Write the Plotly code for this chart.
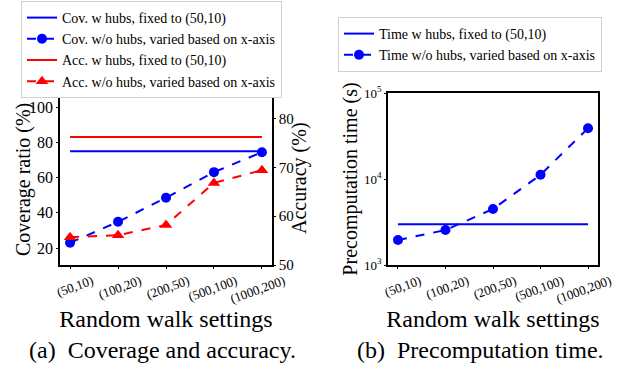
import plotly.graph_objects as go

settings = ["(50,10)", "(100,20)", "(200,50)", "(500,100)", "(1000,200)"]
cov_hubs = [75, 75, 75, 75, 75]
cov_nohubs = [23, 34.9, 48.6, 63.1, 74.4]
acc_hubs = [76.2, 76.2, 76.2, 76.2, 76.2]
acc_nohubs = [55.7, 56.1, 58.2, 66.8, 69.4]
time_hubs = [2970, 2970, 2970, 2970, 2970]
time_nohubs = [1950, 2550, 4480, 11200, 38900]

FONT = "Liberation Serif"
BLUE = "#0000ff"
RED = "#ff0000"

fig = go.Figure()
fig.add_trace(go.Scatter(x=settings, y=cov_hubs, mode="lines", name="Cov. w hubs, fixed to (50,10)",
                         line=dict(color=BLUE, width=2), xaxis="x", yaxis="y", legend="legend"))
fig.add_trace(go.Scatter(x=settings, y=cov_nohubs, mode="lines+markers", name="Cov. w/o hubs, varied based on x-axis",
                         line=dict(color=BLUE, width=2, dash="dash"), marker=dict(symbol="circle", size=10, color=BLUE),
                         xaxis="x", yaxis="y", legend="legend"))
fig.add_trace(go.Scatter(x=settings, y=acc_hubs, mode="lines", name="Acc. w hubs, fixed to (50,10)",
                         line=dict(color=RED, width=2), xaxis="x", yaxis="y2", legend="legend"))
fig.add_trace(go.Scatter(x=settings, y=acc_nohubs, mode="lines+markers", name="Acc. w/o hubs, varied based on x-axis",
                         line=dict(color=RED, width=2, dash="dash"), marker=dict(symbol="triangle-up", size=11, color=RED),
                         xaxis="x", yaxis="y2", legend="legend"))
fig.add_trace(go.Scatter(x=settings, y=time_hubs, mode="lines", name="Time w hubs, fixed to (50,10)",
                         line=dict(color=BLUE, width=2), xaxis="x3", yaxis="y3", legend="legend2"))
fig.add_trace(go.Scatter(x=settings, y=time_nohubs, mode="lines+markers", name="Time w/o hubs, varied based on x-axis",
                         line=dict(color=BLUE, width=2, dash="dash"), marker=dict(symbol="circle", size=10, color=BLUE),
                         xaxis="x3", yaxis="y3", legend="legend2"))

W, H = 641, 369
def px(x0, x1):
    return [x0 / W, x1 / W]
def py(top, bottom):
    return [1 - bottom / H, 1 - top / H]

axcommon = dict(showline=True, linecolor="black", linewidth=1.5, mirror=False, showgrid=False,
                zeroline=False, ticks="outside", ticklen=2, tickcolor="black", automargin=False,
                tickfont=dict(family=FONT, size=16, color="black"))

xcommon = dict(axcommon, tickangle=-20, ticklabelshift=22, tickfont=dict(family=FONT, size=13, color="black"),
               range=[-0.21, 4.21],
               title=dict(text="Random walk settings", font=dict(family=FONT, size=24, color="black"), standoff=1))

fig.update_layout(
    width=W, height=H, margin=dict(l=0, r=0, t=0, b=0, autoexpand=False),
    paper_bgcolor="white", plot_bgcolor="white",
    font=dict(family=FONT, color="black"),
    xaxis=dict(xcommon, domain=px(60, 272), anchor="y", mirror=True),
    yaxis=dict(axcommon, domain=py(93, 265), range=[10.4, 108], tickvals=[20, 40, 60, 80, 100], anchor="x"),
    yaxis2=dict(axcommon, overlaying="y", side="right", range=[50, 85.2], tickvals=[50, 60, 70, 80], anchor="x",
                tickfont=dict(family=FONT, size=15, color="black")),
    xaxis3=dict(xcommon, domain=px(388, 598), anchor="y3", mirror=True),
    yaxis3=dict(axcommon, domain=py(93, 265), type="log", range=[3, 5], anchor="x3", mirror=True,
                tickfont=dict(family=FONT, size=13, color="black"),
                tickvals=[1000, 10000, 100000], ticktext=["10<sup>3</sup>", "10<sup>4</sup>", "10<sup>5</sup>"],
                title=dict(text="Precomputation time (s)", font=dict(family=FONT, size=20, color="black"), standoff=1)),
    legend=dict(x=21 / W, y=1 - 1 / H, xanchor="left", yanchor="top", bgcolor="white",
                bordercolor="#d0d0d0", borderwidth=1, font=dict(family=FONT, size=14, color="black"),
                traceorder="normal"),
    legend2=dict(x=338 / W, y=1 - 17 / H, xanchor="left", yanchor="top", bgcolor="white",
                 bordercolor="#d0d0d0", borderwidth=1, font=dict(family=FONT, size=14, color="black"),
                 traceorder="normal"),
    annotations=[
        dict(text="Coverage ratio (%)", x=23 / W, y=1 - 180 / H, xref="paper", yref="paper", textangle=-90,
             xanchor="center", yanchor="middle", showarrow=False, font=dict(family=FONT, size=20, color="black")),
        dict(text="Accuracy (%)", x=300 / W, y=1 - 178 / H, xref="paper", yref="paper", textangle=-90,
             xanchor="center", yanchor="middle", showarrow=False, font=dict(family=FONT, size=20, color="black")),
        dict(text="(a)\u2002Coverage and accuracy.", x=162 / W, y=1 - 350 / H, xref="paper", yref="paper",
             xanchor="center", yanchor="middle", showarrow=False, font=dict(family=FONT, size=24, color="black")),
        dict(text="(b)\u2002Precomputation time.", x=480 / W, y=1 - 350 / H, xref="paper", yref="paper",
             xanchor="center", yanchor="middle", showarrow=False, font=dict(family=FONT, size=24, color="black")),
    ],
)

fig.write_html("out.html", config={"displayModeBar": False},
               post_script="document.body.style.margin='0px';document.body.style.overflow='hidden';")
